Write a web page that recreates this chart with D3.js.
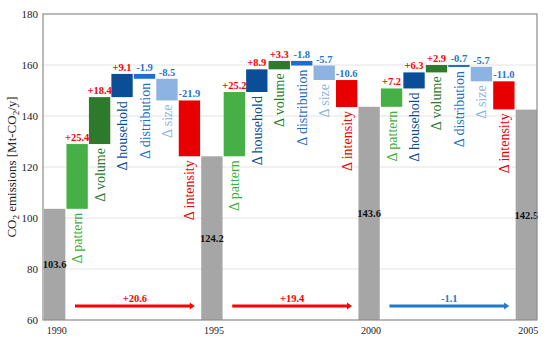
<!DOCTYPE html>
<html>
<head>
<meta charset="utf-8">
<script src="https://cdn.jsdelivr.net/npm/d3@7"></script>
<style>
  body { margin: 0; background: #fff; }
  svg text { font-family: "Liberation Serif", "Times New Roman", "DejaVu Serif", serif !important; }
</style>
</head>
<body>
<div id="chart"></div>
<script>
const years = ["1990", "1995", "2000", "2005"];
const totals = [103.6, 124.2, 143.6, 142.5];
const effectNames = [
  ["pattern", "volume", "household", "distribution", "size", "intensity"],
  ["pattern", "household", "volume", "distribution", "size", "intensity"],
  ["pattern", "household", "volume", "distribution", "size", "intensity"],
];
const effectValues = [
  [25.4, 18.4, 9.1, -1.9, -8.5, -21.9],
  [25.2, 8.9, 3.3, -1.8, -5.7, -10.6],
  [7.2, 6.3, 2.9, -0.7, -5.7, -11.0],
];
const periodChanges = [20.6, 19.4, -1.1];
const yTicks = [60, 80, 100, 120, 140, 160, 180];

const barColor = {
  pattern: "#46b046", volume: "#2d7a2d", household: "#0b4e98",
  distribution: "#1b70cc", size: "#8db3e2", intensity: "#e80000"
};
const textColor = {
  pattern: "#3eae3e", volume: "#2d7a2d", household: "#0b4e98",
  distribution: "#1f6fc8", size: "#8db3e2", intensity: "#ee0000"
};

const serif = "'Liberation Serif', 'Times New Roman', 'DejaVu Serif', serif";
const W = 550, H = 346;
const plotL = 43, plotR = 537, plotT = 14, plotB = 320;

const svg = d3.select("#chart").append("svg")
  .attr("width", W).attr("height", H)
  .attr("font-family", serif);

// slots: year bar, 6 effects, year bar, ...
const slots = [];
years.forEach((yr, i) => {
  slots.push("y" + i);
  if (i < effectNames.length) effectNames[i].forEach((n, j) => slots.push("e" + i + "_" + j));
});

const x = d3.scaleBand().domain(slots).range([plotL + 1, plotR]).paddingInner(0.05);
const y = d3.scaleLinear().domain([60, 180]).range([plotB, plotT]);
const bw = x.bandwidth();

// grid
svg.append("g").selectAll("line")
  .data(yTicks.filter(t => t > 60 && t < 180))
  .enter().append("line")
  .attr("x1", plotL).attr("x2", plotR)
  .attr("y1", d => y(d)).attr("y2", d => y(d))
  .attr("stroke", "#e4e4e4").attr("stroke-width", 1);

// y axis labels
svg.append("g")
  .attr("transform", `translate(${plotL},0)`)
  .call(d3.axisLeft(y).tickValues(yTicks).tickSize(0).tickPadding(5))
  .call(g => g.select(".domain").remove())
  .attr("font-family", serif)
  .selectAll("text")
  .style("font-family", serif)
  .style("font-size", "11px")
  .style("fill", "#222");

// total bars
years.forEach((yr, i) => {
  const key = "y" + i;
  svg.append("rect")
    .attr("x", x(key)).attr("width", bw)
    .attr("y", y(totals[i])).attr("height", y(60) - y(totals[i]))
    .attr("fill", "#a6a6a6");
  svg.append("text")
    .attr("x", x(key) + bw / 2)
    .attr("y", (y(totals[i]) + y(60)) / 2 + 4)
    .attr("text-anchor", "middle")
    .style("font-size", "10.5px").style("font-weight", "bold").style("fill", "#111")
    .text(totals[i].toFixed(1));
  svg.append("text")
    .attr("x", x(key) + bw / 2 + 2)
    .attr("y", 334)
    .attr("text-anchor", "middle")
    .style("font-size", "10px").style("fill", "#222")
    .text(yr);
});

// effect bars
effectNames.forEach((names, i) => {
  let cum = totals[i];
  names.forEach((name, j) => {
    const v = effectValues[i][j];
    const key = "e" + i + "_" + j;
    const hi = Math.max(cum, cum + v), lo = Math.min(cum, cum + v);
    const cx = x(key) + bw / 2;
    svg.append("rect")
      .attr("x", x(key)).attr("width", bw)
      .attr("y", y(hi)).attr("height", Math.max(2, y(lo) - y(hi)))
      .attr("fill", barColor[name]);
    svg.append("text")
      .attr("x", cx).attr("y", y(hi) - 3)
      .attr("text-anchor", "middle")
      .style("font-size", "10.5px").style("font-weight", "bold")
      .style("fill", v > 0 ? "#ff0000" : "#1f78c8")
      .text((v > 0 ? "+" : "") + v.toFixed(1));
    svg.append("text")
      .attr("transform", `translate(${cx + 5},${Math.max(y(lo), y(hi) + 2) + 4}) rotate(-90)`)
      .attr("text-anchor", "end")
      .style("font-size", "14px")
      .style("fill", textColor[name])
      .text("\u0394 " + name);
    cum += v;
  });

  // period arrow
  const x0 = x("e" + i + "_0") + bw * 0.4;
  const x1 = x("e" + i + "_5") + bw * 0.75;
  const ay = y(65.5);
  const col = periodChanges[i] > 0 ? "#ff0000" : "#1f78c8";
  svg.append("line")
    .attr("x1", x0).attr("x2", x1 - 4)
    .attr("y1", ay).attr("y2", ay)
    .attr("stroke", col).attr("stroke-width", 3);
  svg.append("path")
    .attr("d", `M${x1},${ay} L${x1 - 5},${ay - 3.5} L${x1 - 5},${ay + 3.5} Z`)
    .attr("fill", col);
  svg.append("text")
    .attr("x", (x0 + x1) / 2).attr("y", ay - 4)
    .attr("text-anchor", "middle")
    .style("font-size", "10.5px").style("font-weight", "bold").style("fill", col)
    .text((periodChanges[i] > 0 ? "+" : "") + periodChanges[i].toFixed(1));
});

// frame
svg.append("rect")
  .attr("x", plotL).attr("y", plotT)
  .attr("width", plotR - plotL).attr("height", plotB - plotT)
  .attr("fill", "none").attr("stroke", "#8c8c8c").attr("stroke-width", 1.2);

// y title
const title = svg.append("text")
  .attr("transform", `translate(16,${(plotT + plotB) / 2}) rotate(-90)`)
  .attr("text-anchor", "middle")
  .style("font-size", "13px").style("fill", "#222");
title.append("tspan").text("CO");
title.append("tspan").attr("dy", 3).style("font-size", "9px").text("2");
title.append("tspan").attr("dy", -3).text(" emissions [Mt-CO");
title.append("tspan").attr("dy", 3).style("font-size", "9px").text("2");
title.append("tspan").attr("dy", -3).text("/y]");
</script>
</body>
</html>
